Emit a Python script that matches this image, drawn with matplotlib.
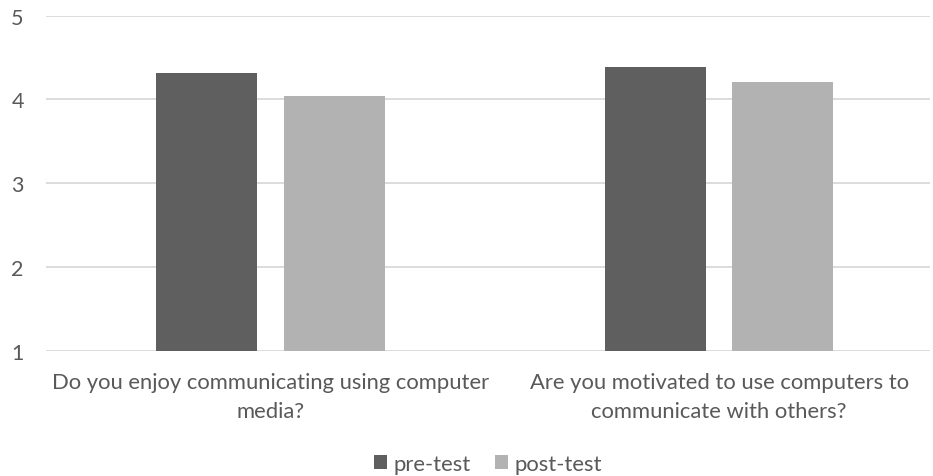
import numpy as np
import matplotlib
matplotlib.use("Agg")
import matplotlib.pyplot as plt

categories = ["Do you enjoy communicating using computer\nmedia?",
              "Are you motivated to use computers to\ncommunicate with others?"]
pre_test = [4.31, 4.38]
post_test = [4.04, 4.21]

plt.rcParams['font.family'] = ['Lato', 'DejaVu Sans']

fig = plt.figure(figsize=(9.33, 4.77), dpi=100)
ax = fig.add_axes([46/933, 1-351.7/477, (930-46)/933, (351.7-16.5)/477])

x = np.arange(len(categories))
w = 0.225
off = 0.142
ax.bar(x - off, [v - 1 for v in pre_test], w, bottom=1, color='#5f5f5f', label='pre-test', zorder=3)
ax.bar(x + off, [v - 1 for v in post_test], w, bottom=1, color='#b2b2b2', label='post-test', zorder=3)

ax.set_xlim(-0.5, 1.47)
ax.set_ylim(1, 5)
ax.set_yticks([1, 2, 3, 4, 5])
ax.yaxis.grid(True, color='#d9d9d9', linewidth=1.3, zorder=0)
for s in ax.spines.values():
    s.set_visible(False)
ax.tick_params(length=0, labelsize=15.5, colors='#595959', pad=16)
ax.set_xticks(x)
ax.set_xticklabels(categories, fontsize=15.8, color='#595959', linespacing=1.6)
ax.tick_params(axis='x', pad=15)

fig.legend(loc='center', bbox_to_anchor=(488/933, 1-465/477), ncol=2, frameon=False,
           fontsize=15.8, labelcolor='#595959', handlelength=0.6, handleheight=0.6,
           handletextpad=0.3, columnspacing=1.1)

fig.savefig("out.png", dpi=100)
